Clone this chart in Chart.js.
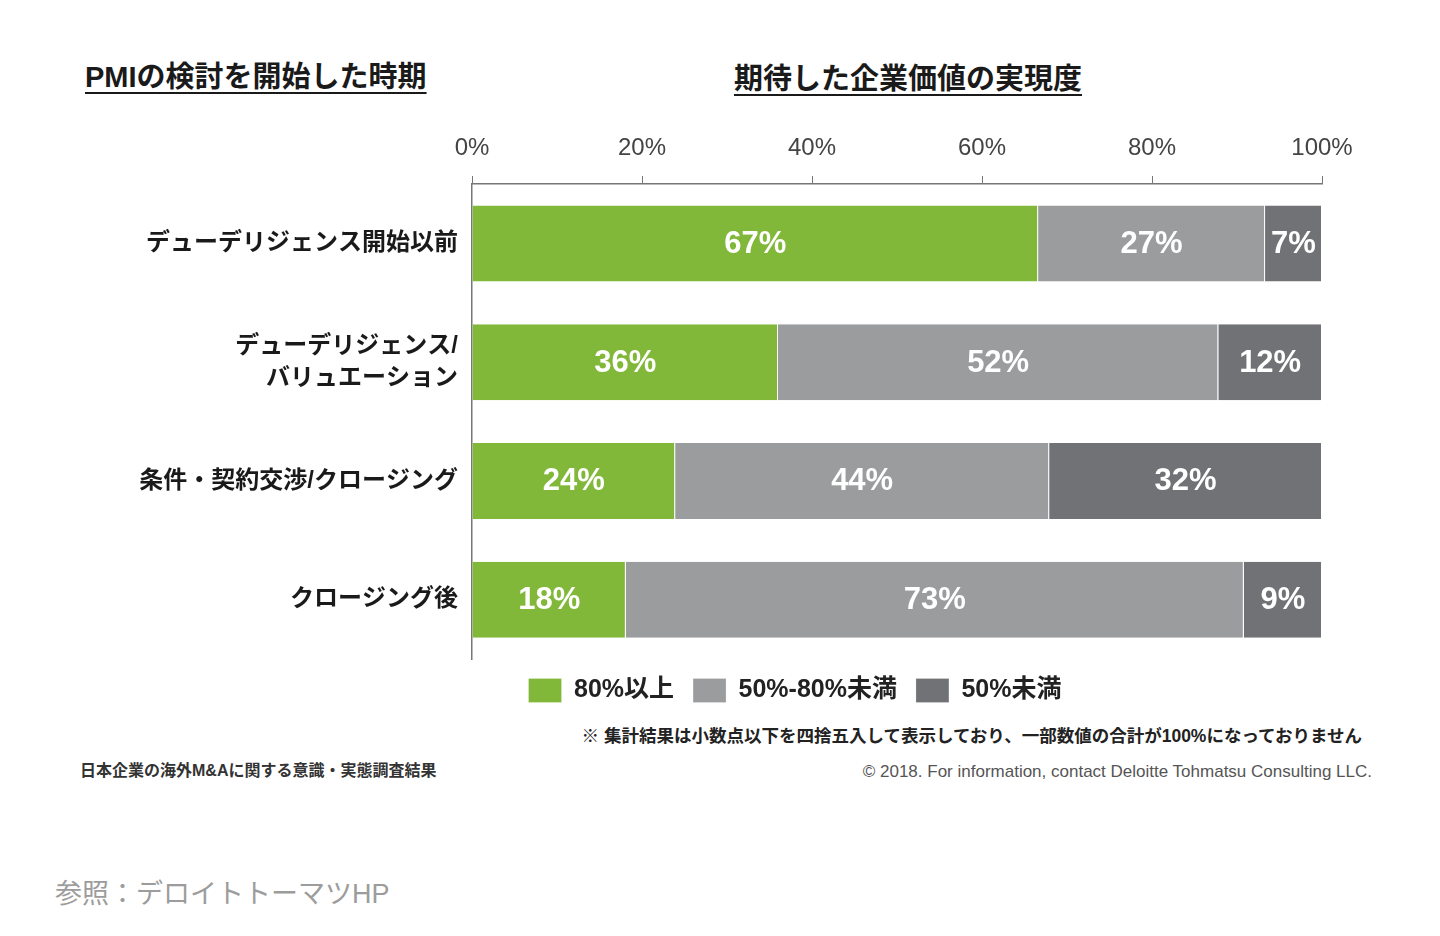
<!DOCTYPE html>
<html lang="ja">
<head>
<meta charset="utf-8">
<title>期待した企業価値の実現度</title>
<script src="https://cdn.jsdelivr.net/npm/chart.js@4.4.1/dist/chart.umd.min.js"></script>
<style>
  html, body { margin: 0; padding: 0; background: #fff; overflow: hidden; }
  body { width: 1440px; height: 936px; position: relative; font-family: "Liberation Sans", "Noto Sans CJK JP", sans-serif; }
  .txt { position: absolute; white-space: nowrap; line-height: 1; }
  .title { font-size: 29px; font-weight: bold; color: #1a1a1a; text-decoration: underline; text-decoration-thickness: 2px; text-underline-offset: 5px; }
  #box { position: absolute; left: 0; top: 112px; width: 1456px; height: 601px; }
</style>
</head>
<body>
<div class="txt title" style="left:85px; top:63px;">PMIの検討を開始した時期</div>
<div class="txt title" style="left:908px; top:65px; transform:translateX(-50%);">期待した企業価値の実現度</div>

<div id="box"><canvas id="grafico"></canvas></div>

<div class="txt" style="right:78px; top:728px; font-size:17.5px; font-weight:bold; color:#222;">※ 集計結果は小数点以下を四捨五入して表示しており、一部数値の合計が100%になっておりません</div>
<div class="txt" style="left:80px; top:763px; font-size:16px; font-weight:bold; color:#333;">日本企業の海外M&amp;Aに関する意識・実態調査結果</div>
<div class="txt" style="right:68px; top:763px; font-size:17px; color:#555;">© 2018. For information, contact Deloitte Tohmatsu Consulting LLC.</div>
<div class="txt" style="left:55px; top:881px; font-size:27px; color:#9c9c9c;">参照：デロイトトーマツHP</div>

<script>
// データ
const categorias = [
  "デューデリジェンス開始以前",
  ["デューデリジェンス/", "バリュエーション"],
  "条件・契約交渉/クロージング",
  "クロージング後"
];
const series = ["80%以上", "50%-80%未満", "50%未満"];
const acima80 = [66.6, 36.0, 23.9, 18.1];
const entre50e80 = [26.7, 51.8, 44.0, 72.7];
const abaixo50 = [6.7, 12.2, 32.1, 9.2];
const ticksX = ["0%", "20%", "40%", "60%", "80%", "100%"];

const cores = ["#82b83a", "#9b9c9e", "#707275"];
const fonte = '"Liberation Sans", "Noto Sans CJK JP", sans-serif';

// rótulos brancos dentro das barras
const rotulos = {
  id: "rotulos",
  afterDatasetsDraw(chart) {
    const ctx = chart.ctx;
    ctx.save();
    ctx.fillStyle = "#fff";
    ctx.font = "bold 31px " + fonte;
    ctx.textAlign = "center";
    ctx.textBaseline = "middle";
    chart.data.datasets.forEach((ds, i) => {
      chart.getDatasetMeta(i).data.forEach((bar, j) => {
        ctx.fillText(Math.round(ds.data[j]) + "%", (bar.x + bar.base) / 2, bar.y + 1);
      });
    });
    ctx.restore();
  }
};

new Chart(document.getElementById("grafico"), {
  type: "bar",
  data: {
    labels: categorias,
    datasets: [acima80, entre50e80, abaixo50].map((d, i) => ({
      label: series[i],
      data: d,
      backgroundColor: cores[i],
      borderColor: "#ffffff",
      borderWidth: { top: 0, bottom: 0, left: 0, right: 1 },
      borderSkipped: false,
      barPercentage: 0.64,
      categoryPercentage: 1
    }))
  },
  options: {
    indexAxis: "y",
    responsive: true,
    maintainAspectRatio: false,
    animation: false,
    // a legenda fica centrada entre 134 e 1456 (~795px)
    layout: { padding: { left: 134, right: 0, top: 12, bottom: 0 } },
    scales: {
      x: {
        position: "top",
        stacked: true,
        min: 0,
        max: 100,
        afterBuildTicks: s => { s.ticks = ticksX.map((t, i) => ({ value: i * 20 })); },
        afterFit: s => { s.height = 60; s.paddingRight = 134; },
        ticks: {
          callback: (v, i) => ticksX[i],
          font: { family: fonte, size: 24 },
          color: "#444",
          padding: 13,
          maxRotation: 0
        },
        grid: { drawOnChartArea: false, tickLength: 8, color: "#777" },
        border: { display: true, color: "#777", width: 1.5 }
      },
      y: {
        stacked: true,
        afterFit: s => { s.width = 338; },
        ticks: {
          font: { family: fonte, size: 24, weight: "bold", lineHeight: 1.33 },
          color: "#1a1a1a",
          padding: 6
        },
        grid: { display: false },
        border: { display: true, color: "#777", width: 1.5 }
      }
    },
    plugins: {
      legend: {
        position: "bottom",
        labels: {
          boxWidth: 33,
          boxHeight: 24,
          padding: 19,
          color: "#222",
          font: { family: fonte, size: 25, weight: "bold" }
        }
      },
      tooltip: { enabled: false }
    }
  },
  plugins: [rotulos]
});
</script>
</body>
</html>
